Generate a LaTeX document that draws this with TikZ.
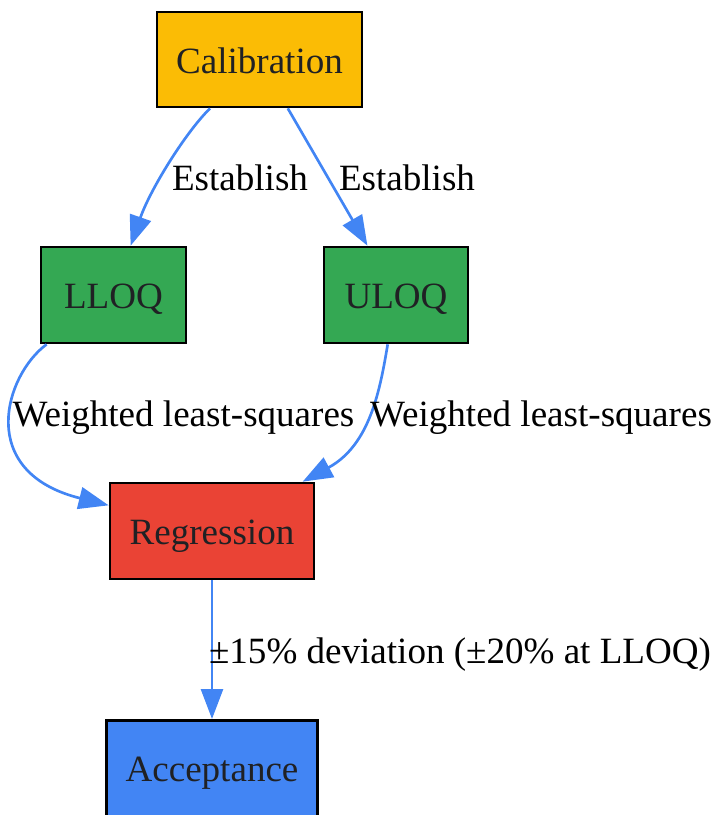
\documentclass[tikz,border=0pt]{standalone}
\usepackage{fontspec}
\setmainfont{Liberation Serif}
\usetikzlibrary{arrows.meta}
\definecolor{cyellow}{HTML}{FBBC05}
\definecolor{cgreen}{HTML}{34A853}
\definecolor{cred}{HTML}{EA4335}
\definecolor{cblue}{HTML}{4285F4}
\definecolor{ctext}{HTML}{202124}
\tikzset{
  box/.style={draw=black, line width=2pt, rectangle, inner sep=0pt, text=ctext,
    text height=20.25pt, text depth=0pt,
    font=\fontsize{27.8}{33}\selectfont},
  lbl/.style={inner sep=0pt, text=black, text height=20.25pt, text depth=0pt,
    font=\fontsize{27.8}{33}\selectfont},
  conn/.style={draw=cblue, line width=2pt, -{Triangle[length=22.5pt,width=16.5pt]}},
}
\begin{document}
\begin{tikzpicture}[x=0.75pt, y=-0.75pt]
\useasboundingbox (0,0) rectangle (715,815);
\node[box, fill=cyellow, minimum width=205*0.75pt, minimum height=95*0.75pt] (cal) at (259.5,59.5) {Calibration};
\node[box, fill=cgreen, minimum width=145*0.75pt, minimum height=96*0.75pt] (lloq) at (113.5,295) {LLOQ};
\node[box, fill=cgreen, minimum width=144*0.75pt, minimum height=96*0.75pt] (uloq) at (396,295) {ULOQ};
\node[box, fill=cred, minimum width=204*0.75pt, minimum height=96*0.75pt] (reg) at (212,531) {Regression};
\node[box, fill=cblue, minimum width=211*0.75pt, minimum height=110*0.75pt, text height=9pt, anchor=north] (acc) at (212,719) {Acceptance};

\draw[conn] (cal) .. controls (185,133) and (150,190) .. (lloq);
\draw[conn] (cal) -- (uloq);
\draw[conn] (lloq) .. controls (5,375) and (-25,472) .. (reg);
\draw[conn] (uloq) .. controls (380,390) and (370,445) .. (reg);
\draw[conn] (reg) -- (reg |- acc.north);

\node[lbl] (l1) at (240,176.5) {Establish};
\node[lbl] (l2) at (407,176.5) {Establish};
\node[lbl] (l3) at (183.5,413) {Weighted least-squares};
\node[lbl] (l4) at (541,413) {Weighted least-squares};
\node[lbl] (l5) at (460,649.5) {±15\% deviation (±20\% at LLOQ)};
\end{tikzpicture}
\end{document}
